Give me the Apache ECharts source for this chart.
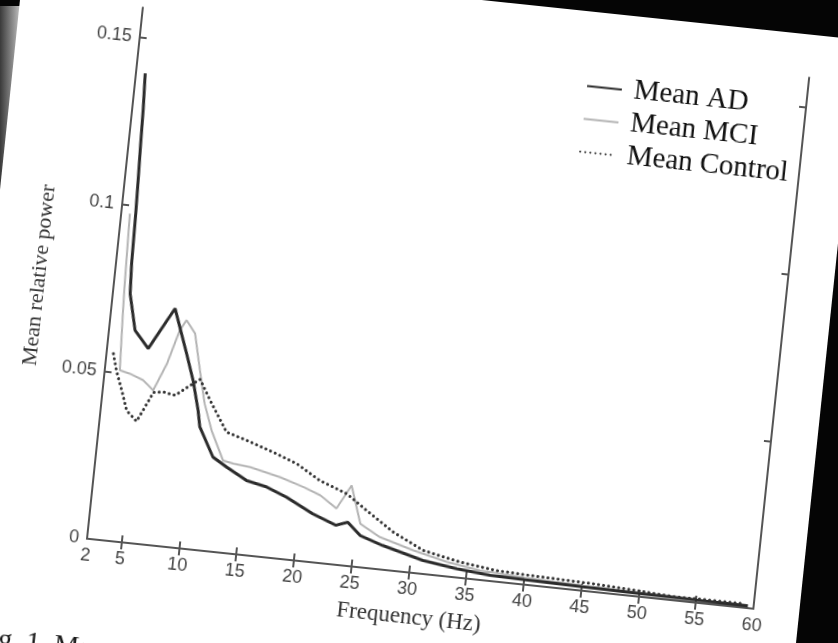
<!DOCTYPE html>
<html><head><meta charset="utf-8">
<script src="https://cdn.jsdelivr.net/npm/echarts@6/dist/echarts.min.js"></script>
<style>
html,body{margin:0;padding:0;width:838px;height:643px;overflow:hidden;background:#050505;}
#shade{position:absolute;left:0;top:6px;width:24px;height:220px;background:linear-gradient(to right,#3a3a3a,#8f8f8f 55%,#dcdcdc);}
#paper{position:absolute;left:25px;top:-48.5px;width:839px;height:760px;background:#fff;transform-origin:0 0;transform:rotate(6deg);}
#chart{width:839px;height:760px;}
</style></head>
<body>
<div id="shade"></div>
<div id="paper"><div id="chart"></div></div>
<script>
const seriesNames = ['Mean AD', 'Mean MCI', 'Mean Control'];
const adFreq = [2.8, 2.95, 3.05, 3.15, 3.25, 3.35, 3.5, 4.25, 5.55, 7.5, 8.9, 9.7, 10.4, 10.7, 12.1, 13.4, 15.2, 17.0, 18.8, 21.2, 23.3, 24.3, 25.5, 27.5, 31.1, 34.1, 37.0, 40.0, 45.0, 50.0, 55.0, 59.5];
const adPower = [0.1396, 0.1292, 0.1182, 0.1087, 0.0983, 0.0829, 0.0739, 0.0632, 0.0582, 0.0709, 0.0579, 0.0502, 0.0415, 0.0366, 0.0281, 0.0255, 0.0222, 0.0209, 0.0185, 0.0144, 0.0117, 0.0130, 0.0094, 0.0072, 0.0040, 0.0026, 0.0017, 0.0015, 0.0012, 0.0010, 0.0008, 0.0007];
const mciFreq = [2.75, 2.95, 3.05, 3.3, 4.2, 5.4, 6.35, 7.3, 8.1, 8.6, 9.45, 10.2, 10.9, 11.75, 13.0, 13.9, 15.4, 18.1, 20.2, 21.7, 23.2, 24.3, 25.4, 27.2, 30.2, 33.2, 36.1, 40.0, 45.0, 50.0, 55.0, 59.5];
const mciPower = [0.0976, 0.0758, 0.0677, 0.0509, 0.0502, 0.0487, 0.0460, 0.0543, 0.0646, 0.0678, 0.0641, 0.0534, 0.0437, 0.0359, 0.0274, 0.0268, 0.0263, 0.0242, 0.0220, 0.0201, 0.0167, 0.0240, 0.0129, 0.0096, 0.0067, 0.0043, 0.0028, 0.0021, 0.0016, 0.0012, 0.0009, 0.0008];
const ctrlFreq = [2.6, 3.0, 3.65, 4.25, 5.2, 5.8, 6.4, 7.25, 8.3, 9.5, 10.3, 11.35, 13.05, 14.85, 17.25, 19.4, 21.5, 23.95, 25.8, 28.3, 31.05, 34.3, 37.55, 40.5, 46.0, 50.0, 53.0, 56.0, 59.1];
const ctrlPower = [0.0556, 0.0508, 0.0450, 0.0392, 0.0363, 0.0408, 0.0454, 0.0458, 0.0452, 0.0486, 0.0507, 0.0448, 0.0359, 0.0341, 0.0314, 0.0287, 0.0245, 0.0214, 0.0171, 0.0115, 0.0070, 0.0047, 0.0033, 0.0029, 0.0024, 0.0017, 0.0011, 0.0012, 0.0012];
const xTickLabels = [2, 5, 10, 15, 20, 25, 30, 35, 40, 45, 50, 55, 60];
const xTickMarks = [5, 10, 15, 20, 25, 30, 35, 40, 45, 50, 55];
const yTickLabels = [0, 0.05, 0.1, 0.15];
const yTickMarks = [0.05, 0.1, 0.15];
const xAxisTitle = 'Frequency (Hz)';
const yAxisTitle = 'Mean relative power';
const captionText = 'Fig. 1. Mean';

function pairs(xs, ys) { return xs.map((x, i) => [x, ys[i]]); }

const axisLineStyle = { color: '#555', width: 2 };
const chart = echarts.init(document.getElementById('chart'), null, { renderer: 'canvas' });
chart.setOption({
  animation: false,
  backgroundColor: 'transparent',
  grid: { left: 123, top: 43, width: 670, height: 534, containLabel: false },
  legend: {
    data: seriesNames,
    orient: 'vertical',
    left: 567, top: 55,
    itemWidth: 35, itemHeight: 14, itemGap: 4,
    itemStyle: { opacity: 0 },
    textStyle: { fontFamily: 'Liberation Serif', fontSize: 29, color: '#111', padding: [0, 0, 0, 7] }
  },
  graphic: [{
    type: 'text', left: 22, top: 673,
    style: { text: captionText, font: '28px "Liberation Serif"', fill: '#1a1a1a' }
  }],
  xAxis: [{
    type: 'value', min: 2, max: 60, position: 'bottom',
    name: xAxisTitle, nameLocation: 'middle', nameGap: 33,
    nameTextStyle: { fontFamily: 'Liberation Serif', fontSize: 23, color: '#333', padding: [0, 14, 0, 0] },
    axisLine: { show: true, lineStyle: axisLineStyle },
    axisTick: { show: true, inside: true, length: 7, customValues: xTickMarks, lineStyle: axisLineStyle },
    axisLabel: { customValues: xTickLabels, fontFamily: 'Liberation Sans', fontSize: 18, color: '#444', margin: 8 },
    splitLine: { show: false }
  }, {
    type: 'value', min: 2, max: 60, position: 'top',
    axisLine: { show: true, lineStyle: axisLineStyle },
    axisTick: { show: true, inside: true, length: 7, customValues: xTickMarks, lineStyle: axisLineStyle },
    axisLabel: { show: false }, splitLine: { show: false }
  }],
  yAxis: [{
    type: 'value', min: 0, max: 0.159, position: 'left',
    name: yAxisTitle, nameLocation: 'middle', nameGap: 64, nameRotate: 90,
    nameTextStyle: { fontFamily: 'Liberation Serif', fontSize: 22, color: '#333', padding: [0, 20, 0, 0] },
    axisLine: { show: true, lineStyle: axisLineStyle },
    axisTick: { show: true, inside: true, length: 7, customValues: yTickMarks, lineStyle: axisLineStyle },
    axisLabel: { customValues: yTickLabels, fontFamily: 'Liberation Sans', fontSize: 18, color: '#444', margin: 8 },
    splitLine: { show: false }
  }, {
    type: 'value', min: 0, max: 0.159, position: 'right',
    axisLine: { show: true, lineStyle: axisLineStyle },
    axisTick: { show: true, inside: true, length: 7, customValues: yTickMarks, lineStyle: axisLineStyle },
    axisLabel: { show: false }, splitLine: { show: false }
  }],
  series: [{
    name: seriesNames[0], type: 'line', symbol: 'none', xAxisIndex: 0, yAxisIndex: 0,
    data: pairs(adFreq, adPower),
    lineStyle: { color: '#2b2b2b', width: 3 }, itemStyle: { color: '#2b2b2b' }, z: 3
  }, {
    name: seriesNames[1], type: 'line', symbol: 'none', xAxisIndex: 0, yAxisIndex: 0,
    data: pairs(mciFreq, mciPower),
    lineStyle: { color: '#b4b4b4', width: 2 }, itemStyle: { color: '#b4b4b4' }, z: 2
  }, {
    name: seriesNames[2], type: 'line', symbol: 'none', xAxisIndex: 0, yAxisIndex: 0,
    data: pairs(ctrlFreq, ctrlPower),
    lineStyle: { color: '#333', width: 3, type: [0.1, 5], cap: 'round' }, itemStyle: { color: '#333' }, z: 4
  }]
});
</script>
</body></html>
